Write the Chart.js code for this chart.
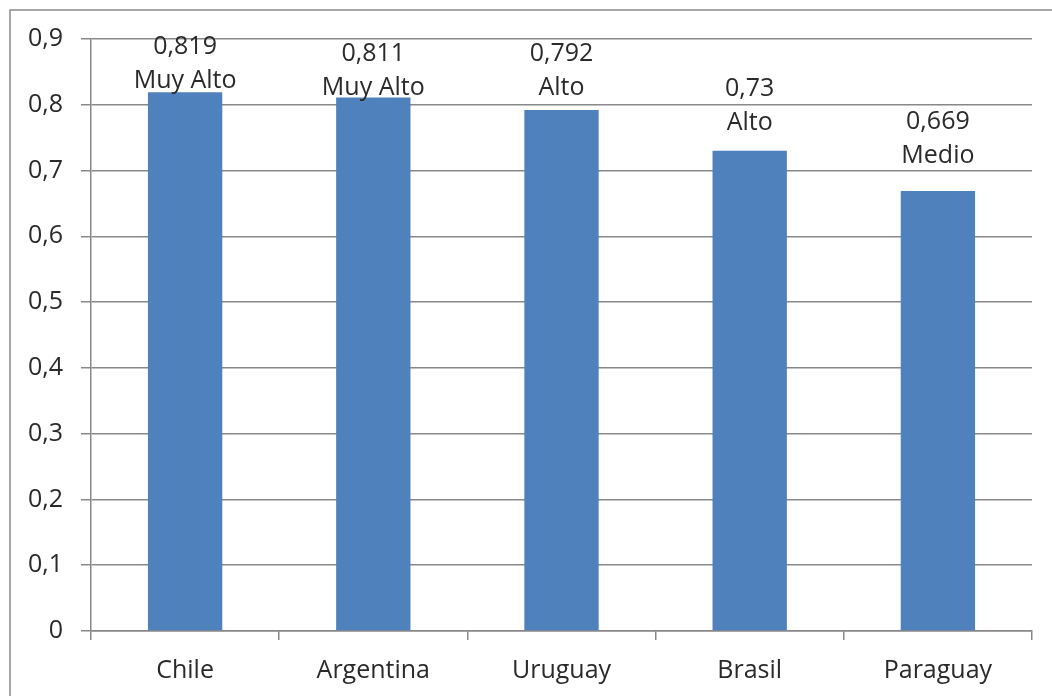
<!DOCTYPE html>
<html>
<head>
<meta charset="utf-8">
<script src="https://cdn.jsdelivr.net/npm/chart.js@4.4.0/dist/chart.umd.min.js"></script>
<style>
  html, body { margin: 0; padding: 0; background: #fff; }
  #wrap { position: relative; width: 1052px; height: 696px; }
  canvas { display: block; }
</style>
</head>
<body>
<div id="wrap"><canvas id="c" width="1052" height="696"></canvas></div>
<script>
const categories = ['Chile', 'Argentina', 'Uruguay', 'Brasil', 'Paraguay'];
const values = [0.819, 0.811, 0.792, 0.73, 0.669];
const ratings = ['Muy Alto', 'Muy Alto', 'Alto', 'Alto', 'Medio'];
const valueLabels = ['0,819', '0,811', '0,792', '0,73', '0,669'];
const yTicks = ['0', '0,1', '0,2', '0,3', '0,4', '0,5', '0,6', '0,7', '0,8', '0,9'];

// label placement (pixels above bar top for the rating line)
const labelLift = [11, 10, 22, 28, 35];
const lineGap = 34;

const FONT = '"Open Sans", "DejaVu Sans", sans-serif';
const TEXT = '#2a2a2a';
const GRID = '#888888';

const frame = {
  id: 'frame',
  beforeDraw(chart) {
    const ctx = chart.ctx;
    ctx.save();
    ctx.fillStyle = '#fff';
    ctx.fillRect(0, 0, chart.width, chart.height);
    ctx.strokeStyle = '#8a8a8a';
    ctx.lineWidth = 1.5;
    ctx.beginPath();
    ctx.moveTo(10, chart.height);
    ctx.lineTo(10, 10);
    ctx.lineTo(chart.width, 10);
    ctx.stroke();
    ctx.restore();
  }
};

const barLabels = {
  id: 'barLabels',
  afterDatasetsDraw(chart) {
    const ctx = chart.ctx;
    const meta = chart.getDatasetMeta(0);
    ctx.save();
    ctx.font = '25px ' + FONT;
    ctx.fillStyle = TEXT;
    ctx.textAlign = 'center';
    ctx.textBaseline = 'middle';
    meta.data.forEach((bar, i) => {
      const y = bar.y - labelLift[i];
      ctx.fillText(ratings[i], bar.x, y);
      ctx.fillText(valueLabels[i], bar.x, y - lineGap);
    });
    ctx.restore();
  }
};

new Chart(document.getElementById('c'), {
  type: 'bar',
  data: {
    labels: categories,
    datasets: [{
      data: values,
      backgroundColor: '#4f81bd',
      borderWidth: 0,
      barPercentage: 0.395,
      categoryPercentage: 1
    }]
  },
  options: {
    responsive: false,
    animation: false,
    devicePixelRatio: 1,
    layout: { padding: { top: 39, right: 20, left: 0, bottom: 0 } },
    plugins: { legend: { display: false }, tooltip: { enabled: false } },
    scales: {
      x: {
        offset: true,
        grid: {
          offset: true,
          drawOnChartArea: false,
          drawTicks: true,
          tickLength: 9,
          color: GRID,
          lineWidth: 1.5
        },
        border: { display: true, color: GRID, width: 1.5 },
        ticks: {
          color: TEXT,
          font: { family: FONT, size: 25 },
          padding: 16
        },
        afterFit(scale) { scale.height = 65; }
      },
      y: {
        min: 0,
        max: 0.9,
        ticks: {
          stepSize: 0.1,
          color: TEXT,
          font: { family: FONT, size: 25 },
          padding: 18,
          callback: (v, i) => yTicks[i]
        },
        grid: {
          color: GRID,
          lineWidth: 1.5,
          tickLength: 10
        },
        border: { display: true, color: GRID, width: 1.5 },
        afterFit(scale) { scale.width = 91; }
      }
    }
  },
  plugins: [frame, barLabels]
});
</script>
</body>
</html>
